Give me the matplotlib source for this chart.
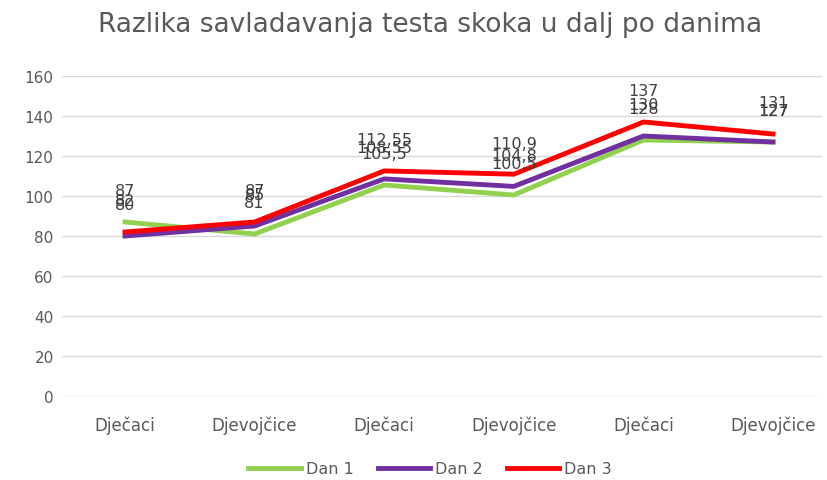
import matplotlib.pyplot as plt

categories = ['Dječaci', 'Djevojčice', 'Dječaci', 'Djevojčice', 'Dječaci', 'Djevojčice']
dan1 = [87, 81, 105.5, 100.5, 128, 127]
dan2 = [80, 85, 108.55, 104.8, 130, 127]
dan3 = [82, 87, 112.55, 110.9, 137, 131]
series = [('Dan 1', dan1, '#92d050'), ('Dan 2', dan2, '#7030a0'), ('Dan 3', dan3, '#ff0000')]

plt.rcParams['font.family'] = ['DejaVu Sans']

fig = plt.figure(figsize=(8.27, 4.81), dpi=100)
ax = fig.add_axes([62 / 827, 1 - 397 / 481, 760 / 827, 320 / 481])

x = list(range(len(categories)))
for name, vals, color in series:
    ax.plot(x, vals, color=color, linewidth=3.5, label=name)
    for xi, v in zip(x, vals):
        txt = f'{v:g}'.replace('.', ',')
        ax.annotate(txt, (xi, v), xytext=(0, 17), textcoords='offset points',
                    ha='center', va='bottom', fontsize=11.5, color='#404040')

ax.set_xlim(-0.486, 5.378)
ax.set_ylim(0, 160)
ax.set_yticks(range(0, 161, 20))
ax.set_xticks(x)
ax.set_xticklabels(categories)
ax.grid(axis='y', color='#d9d9d9', linewidth=1)
ax.set_axisbelow(True)
for s in ax.spines.values():
    s.set_visible(False)
ax.tick_params(axis='x', length=0, labelsize=12, labelcolor='#595959', pad=14)
ax.tick_params(axis='y', length=0, labelsize=11, labelcolor='#595959', pad=6)

fig.suptitle('Razlika savladavanja testa skoka u dalj po danima', x=0.52, y=0.975,
             fontsize=19, color='#595959')
fig.legend(loc='lower center', bbox_to_anchor=(0.52, -0.022), ncol=3, frameon=False,
           fontsize=11.5, handlelength=3.3, handletextpad=0.3, columnspacing=1.5,
           labelcolor='#595959')

plt.savefig('out.png')
